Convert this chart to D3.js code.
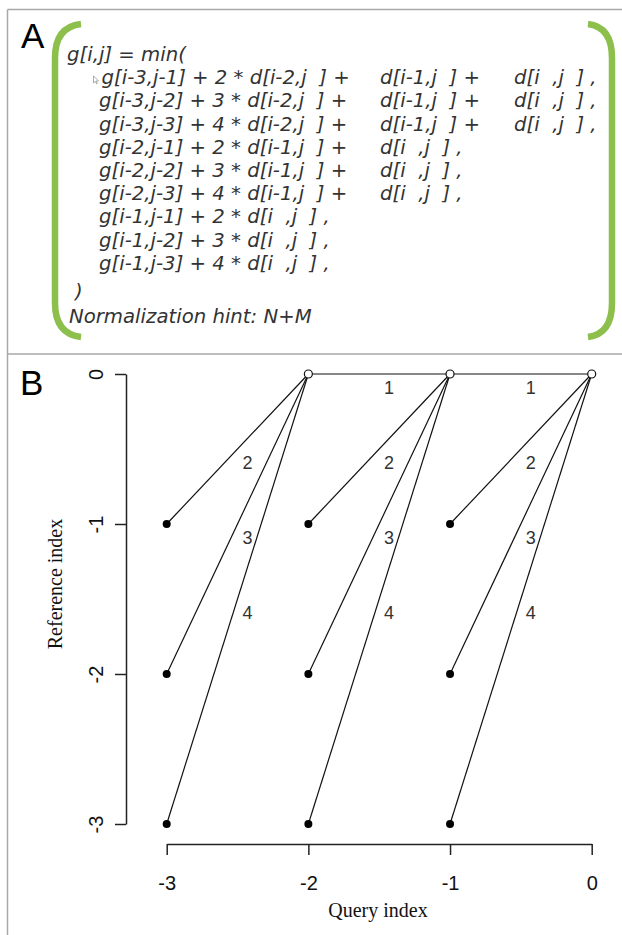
<!DOCTYPE html>
<html>
<head>
<meta charset="utf-8">
<script src="https://cdn.jsdelivr.net/npm/d3@7"></script>
<style>
  html, body { margin: 0; padding: 0; background: #fff; }
  svg { display: block; }
  .formula text { white-space: pre; }
</style>
</head>
<body>
<svg id="chart" width="622" height="935"></svg>
<script>
// ---------- Data ----------
// Panel A: formula lines, split into aligned columns
const formulaHead = "g[i,j] = min(";
const formulaRows = [
  ["g[i-3,j-1] + 2 * d[i-2,j  ] +", "d[i-1,j  ] +", "d[i  ,j  ] ,"],
  ["g[i-3,j-2] + 3 * d[i-2,j  ] +", "d[i-1,j  ] +", "d[i  ,j  ] ,"],
  ["g[i-3,j-3] + 4 * d[i-2,j  ] +", "d[i-1,j  ] +", "d[i  ,j  ] ,"],
  ["g[i-2,j-1] + 2 * d[i-1,j  ] +", "d[i  ,j  ] ,"],
  ["g[i-2,j-2] + 3 * d[i-1,j  ] +", "d[i  ,j  ] ,"],
  ["g[i-2,j-3] + 4 * d[i-1,j  ] +", "d[i  ,j  ] ,"],
  ["g[i-1,j-1] + 2 * d[i  ,j  ] ,"],
  ["g[i-1,j-2] + 3 * d[i  ,j  ] ,"],
  ["g[i-1,j-3] + 4 * d[i  ,j  ] ,"]
];
const formulaClose = ")";
const formulaHint = "Normalization hint: N+M";

// Panel B: step pattern
const queryTicks = [-3, -2, -1, 0];
const referenceTicks = [0, -1, -2, -3];
const originQuery = [-2, -1, 0];          // open circles at reference index 0
const stepQueryOffset = [-1, -1, -1, -1]; // each step moves back one query index
const stepRefOffset = [0, -1, -2, -3];    // ...and back 0..3 reference indices
const stepWeight = [1, 2, 3, 4];          // weight label on each step

// ---------- Drawing ----------
const svg = d3.select("#chart");
const borderColor = "#a8a8a8";
const green = "#8cbf4c";

// frame
svg.append("line").attr("x1", 7.5).attr("x2", 622).attr("y1", 9.5).attr("y2", 9.5)
  .attr("stroke", borderColor).attr("stroke-width", 1.5);
svg.append("line").attr("x1", 7.5).attr("x2", 7.5).attr("y1", 9.5).attr("y2", 935)
  .attr("stroke", borderColor).attr("stroke-width", 1.5);
svg.append("line").attr("x1", 7.5).attr("x2", 622).attr("y1", 354).attr("y2", 354)
  .attr("stroke", borderColor).attr("stroke-width", 1.5);

// panel letters
svg.append("text").attr("x", 21).attr("y", 48).text("A")
  .attr("font-family", "Liberation Sans, Arial, sans-serif").attr("font-size", 35).attr("fill", "#000");
svg.append("text").attr("x", 20).attr("y", 395).text("B")
  .attr("font-family", "Liberation Sans, Arial, sans-serif").attr("font-size", 35).attr("fill", "#000");

// ---------- Panel A ----------
const gA = svg.append("g").attr("class", "formula");
// brackets
gA.append("path")
  .attr("d", "M81,24 Q55,27 55,58 L55,303 Q55,334 81,337")
  .attr("fill", "none").attr("stroke", green).attr("stroke-width", 6.5);
gA.append("path")
  .attr("d", "M588,24 Q612,27 612,58 L612,303 Q612,334 588,337")
  .attr("fill", "none").attr("stroke", green).attr("stroke-width", 6.5);

const fFont = "DejaVu Sans, Verdana, sans-serif";
const fSize = 19.7;
const fColor = "#333";
const colX = [99, 380, 514];
const lineY0 = 61, lineStep = 23.2;

function ftext(x, y, s) {
  gA.append("text").attr("x", x).attr("y", y).text(s)
    .attr("font-family", fFont).attr("font-style", "italic")
    .attr("font-size", fSize).attr("fill", fColor);
}
ftext(67, lineY0, formulaHead);
formulaRows.forEach((row, i) => {
  row.forEach((seg, c) => ftext(colX[c] + (i === 0 && c === 0 ? 2.5 : 0), lineY0 + (i + 1) * lineStep, seg));
});
ftext(75, 298, formulaClose);
ftext(69, 323, formulaHint);
// small mouse-cursor artifact
gA.append("path").attr("d", "M93.5,76 L93.5,83 L95.3,81.4 L96.6,83.8 L97.4,83.4 L96.2,81 L98.5,80.8 Z")
  .attr("fill", "#fff").attr("stroke", "#888").attr("stroke-width", 0.7);

// ---------- Panel B ----------
const x = d3.scaleLinear().domain([-3, 0]).range([166.7, 591.7]);
const y = d3.scaleLinear().domain([-3, 0]).range([824, 374]);
const gB = svg.append("g");

const axisColor = "#222";
const xAxis = gB.append("g").attr("transform", "translate(0,844)")
  .call(d3.axisBottom(x).tickValues(queryTicks).tickFormat(d => String(d)).tickSizeOuter(0).tickSizeInner(11));
const yAxis = gB.append("g").attr("transform", "translate(126,0)")
  .call(d3.axisLeft(y).tickValues(referenceTicks).tickFormat(d => String(d)).tickSizeOuter(0).tickSizeInner(11));

[xAxis, yAxis].forEach(ax => {
  ax.select(".domain").attr("stroke", axisColor).attr("stroke-width", 1.5);
  ax.selectAll(".tick line").attr("stroke", axisColor).attr("stroke-width", 1.5);
  ax.selectAll(".tick text").attr("font-family", "Liberation Sans, Arial, sans-serif")
    .attr("font-size", 20).attr("fill", "#111");
});
xAxis.selectAll(".tick text").attr("dy", null).attr("y", 46);
yAxis.selectAll(".tick text")
  .attr("x", null).attr("dy", null)
  .attr("text-anchor", "middle")
  .attr("transform", "translate(-23,0) rotate(-90)")
  .attr("y", 0);

// axis titles
gB.append("text").attr("x", 378).attr("y", 917).attr("text-anchor", "middle")
  .attr("font-family", "Liberation Serif, Times New Roman, serif").attr("font-size", 20).attr("fill", "#111")
  .text("Query index");
gB.append("text").attr("transform", "translate(62,584) rotate(-90)").attr("text-anchor", "middle")
  .attr("font-family", "Liberation Serif, Times New Roman, serif").attr("font-size", 20).attr("fill", "#111")
  .text("Reference index");

// edges
const edges = [];
originQuery.forEach(q => {
  stepWeight.forEach((w, k) => {
    const tq = q + stepQueryOffset[k], tr = 0 + stepRefOffset[k];
    // a horizontal step only exists between two origins
    if (stepRefOffset[k] === 0 && !originQuery.includes(tq)) return;
    edges.push({ q, r: 0, tq, tr, w });
  });
});

gB.selectAll("line.edge").data(edges).enter().append("line").attr("class", "edge")
  .attr("x1", d => x(d.q)).attr("y1", d => y(d.r))
  .attr("x2", d => x(d.tq)).attr("y2", d => y(d.tr))
  .attr("stroke", "#111").attr("stroke-width", 1.2);

gB.selectAll("text.w").data(edges).enter().append("text").attr("class", "w")
  .attr("x", d => x(d.q - 0.43))
  .attr("y", d => y(d.tr / 2 - 0.09))
  .attr("dy", "0.36em")
  .attr("text-anchor", "middle")
  .attr("font-family", "Liberation Sans, Arial, sans-serif").attr("font-size", 18).attr("fill", "#333")
  .text(d => d.w);

// filled target points (query -3..-1, reference -1..-3)
const targets = [];
originQuery.forEach(q => stepRefOffset.filter(r => r < 0).forEach(r => targets.push({ q: q - 1, r })));
gB.selectAll("circle.t").data(targets).enter().append("circle").attr("class", "t")
  .attr("cx", d => x(d.q)).attr("cy", d => y(d.r)).attr("r", 4).attr("fill", "#000");

// open origin points
gB.selectAll("circle.o").data(originQuery).enter().append("circle").attr("class", "o")
  .attr("cx", d => x(d)).attr("cy", y(0)).attr("r", 4)
  .attr("fill", "#fff").attr("stroke", "#111").attr("stroke-width", 1.2);
</script>
</body>
</html>
